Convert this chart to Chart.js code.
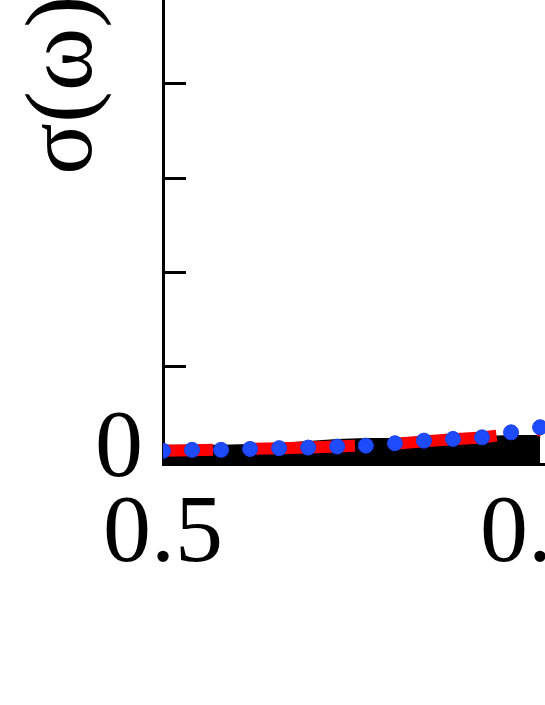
<!DOCTYPE html>
<html>
<head>
<meta charset="utf-8">
<script src="https://cdn.jsdelivr.net/npm/chart.js@4/dist/chart.umd.min.js"></script>
<style>
  html, body { margin: 0; padding: 0; background: #fff; overflow: hidden; width: 545px; height: 705px; }
  #wrap { position: absolute; left: 0; top: -302px; }
</style>
</head>
<body>
<div id="wrap"><canvas id="chart" width="624" height="906"></canvas></div>
<script>
// values
const omega = [0.5, 0.5077, 0.5154, 0.5231, 0.5308, 0.5385, 0.5462, 0.5538, 0.5615, 0.5692, 0.5769, 0.5846, 0.5923, 0.6];
const blackCurve = [0.142, 0.142, 0.142, 0.152, 0.163, 0.184, 0.205, 0.215, 0.215, 0.226, 0.226, 0.236, 0.247, 0.247];
const redCurve = [0.10, 0.105, 0.112, 0.12, 0.128, 0.136, 0.146, 0.158, 0.176, 0.2, 0.222, 0.242, 0.28, 0.32];
const blueDots = [0.10, 0.11, 0.11, 0.12, 0.128, 0.134, 0.145, 0.155, 0.18, 0.208, 0.226, 0.243, 0.296, 0.35];

const xTicks = [0.5, 0.6];
const yTicks = [0, 1, 2, 3, 4, 5, 6, 7, 8];
const yLabelled = [0, 5];

const toPoints = (ys) => omega.map((x, i) => ({ x: x, y: ys[i] }));

// ticks pointing into the plot
const innerTicks = {
    id: "innerTicks",
    beforeDatasetsDraw(chart) {
        const ctx = chart.ctx;
        const y = chart.scales.y;
        const left = chart.chartArea.left;
        ctx.save();
        ctx.strokeStyle = "#000";
        ctx.lineWidth = 3;
        yTicks.forEach((v) => {
            const py = Math.round(y.getPixelForValue(v)) + 0.5;
            ctx.beginPath();
            ctx.moveTo(left, py);
            ctx.lineTo(left + 23, py);
            ctx.stroke();
        });
        ctx.restore();
    },
};

const serif = "'Liberation Serif', 'Times New Roman', serif";

new Chart(document.getElementById("chart").getContext("2d"), {
    type: "line",
    data: {
        datasets: [
            {
                data: toPoints(blueDots),
                showLine: false,
                pointRadius: 7.5,
                pointBackgroundColor: "#1f4bff",
                pointBorderColor: "#1a40ee",
                pointBorderWidth: 1,
                order: 0,
            },
            {
                data: toPoints(redCurve),
                borderColor: "#ff0000",
                borderWidth: 12,
                borderDash: [102, 40],
                borderDashOffset: 52,
                pointRadius: 0,
                tension: 0,
                fill: false,
                order: 1,
            },
            {
                data: toPoints(blackCurve),
                borderColor: "#000000",
                borderWidth: 4,
                backgroundColor: "#000000",
                fill: "start",
                pointRadius: 0,
                tension: 0,
                order: 2,
            },
        ],
    },
    options: {
        responsive: false,
        devicePixelRatio: 1,
        animation: false,
        layout: { padding: 0 },
        plugins: { legend: { display: false }, tooltip: { enabled: false } },
        scales: {
            x: {
                type: "linear",
                min: 0.5,
                max: 0.62,
                grid: { display: false, drawTicks: false },
                border: { display: true, color: "#000", width: 3 },
                afterBuildTicks: (s) => { s.ticks = xTicks.map((v) => ({ value: v })); },
                afterFit: (s) => { s.height = 140; s.paddingLeft = 0; s.paddingRight = 0; },
                ticks: {
                    color: "#000",
                    padding: 14,
                    maxRotation: 0,
                    font: { family: serif, size: 96 },
                    callback: (v) => v.toFixed(1),
                },
            },
            y: {
                min: -0.04,
                max: 8,
                grid: { display: false, drawTicks: false },
                border: { display: true, color: "#000", width: 3 },
                afterBuildTicks: (s) => { s.ticks = yTicks.map((v) => ({ value: v })); },
                afterFit: (s) => { s.width = 163; s.paddingTop = 0; s.paddingBottom = 0; },
                ticks: {
                    color: "#000",
                    padding: 20,
                    labelOffset: -9,
                    font: { family: serif, size: 96 },
                    callback: (v) => (yLabelled.includes(v) ? String(v) : ""),
                },
                title: {
                    display: true,
                    text: "σ(ω)",
                    color: "#000",
                    padding: { top: 8, bottom: 0 },
                    font: { family: serif, size: 96 },
                },
            },
        },
    },
    plugins: [innerTicks],
});
</script>
</body>
</html>
